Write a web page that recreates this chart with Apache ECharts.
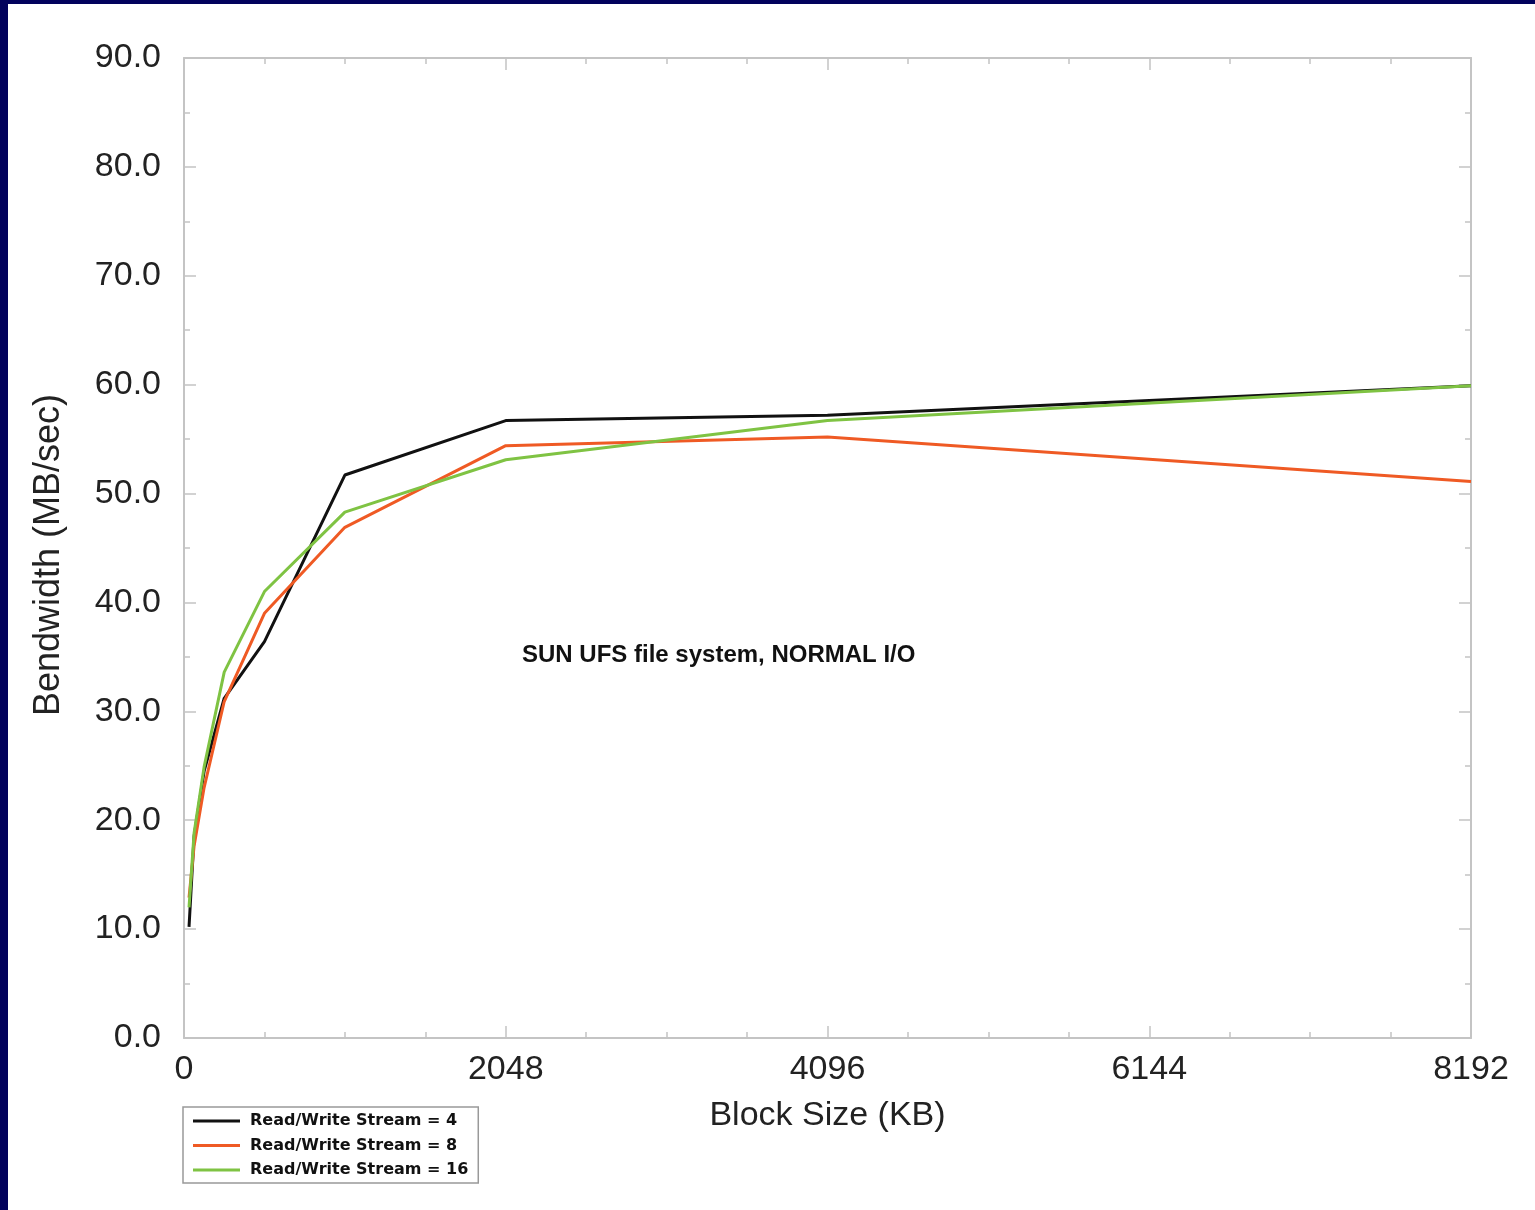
<!DOCTYPE html>
<html>
<head>
<meta charset="utf-8">
<script src="https://cdn.jsdelivr.net/npm/echarts@6/dist/echarts.min.js"></script>
<style>
  html, body { margin: 0; padding: 0; background: #02025c; width: 1535px; height: 1210px; overflow: hidden; }
  #chart { position: absolute; left: 8px; top: 4px; width: 1527px; height: 1206px; background: #ffffff; }
</style>
</head>
<body>
<div id="chart"></div>
<script>
// Block sizes (KB)
const blockSizes = [32, 64, 128, 256, 512, 1024, 2048, 4096, 8192];
// Bandwidth (MB/sec)
const stream4  = [10.2, 18.5, 24.5, 31.2, 36.4, 51.7, 56.7, 57.2, 59.9];
const stream8  = [12.9, 17.6, 23.0, 30.9, 39.0, 46.9, 54.4, 55.2, 51.1];
const stream16 = [12.0, 18.8, 24.9, 33.6, 41.0, 48.3, 53.1, 56.7, 59.9];
const seriesNames = ['Read/Write Stream = 4', 'Read/Write Stream = 8', 'Read/Write Stream = 16'];
const xTickLabels = ['0', '2048', '4096', '6144', '8192'];
const annotation = 'SUN UFS file system, NORMAL I/O';

const pairs = (ys) => blockSizes.map((x, i) => [x, ys[i]]);
const axisColor = '#c4c4c4';
const textColor = '#222';
const bigFont = 'Liberation Sans, Arial, sans-serif';

const chart = echarts.init(document.getElementById('chart'), null, { renderer: 'canvas' });

function xAx(pos, showLabel) {
  return {
    type: 'value', position: pos, min: 0, max: 8192, interval: 2048,
    axisLine: { show: true, onZero: false, lineStyle: { color: axisColor, width: 2 } },
    axisTick: { show: true, inside: true, length: 12, lineStyle: { color: axisColor, width: 1.5 } },
    minorTick: { show: true, splitNumber: 4, length: 6, lineStyle: { color: axisColor, width: 1.5 } },
    splitLine: { show: false },
    axisLabel: showLabel ? {
      show: true, margin: 15, fontSize: 34, color: textColor, fontFamily: bigFont,
      formatter: (v) => xTickLabels[Math.round(v / 2048)]
    } : { show: false },
    name: showLabel ? 'Block Size (KB)' : '',
    nameLocation: 'middle', nameGap: 61,
    nameTextStyle: { fontSize: 34, color: textColor, fontFamily: bigFont }
  };
}
function yAx(pos, showLabel) {
  return {
    type: 'value', position: pos, min: 0, max: 90, interval: 10,
    axisLine: { show: true, onZero: false, lineStyle: { color: axisColor, width: 2 } },
    axisTick: { show: true, inside: true, length: 12, lineStyle: { color: axisColor, width: 1.5 } },
    minorTick: { show: true, splitNumber: 2, length: 6, lineStyle: { color: axisColor, width: 1.5 } },
    splitLine: { show: false },
    axisLabel: showLabel ? {
      show: true, margin: 23, fontSize: 34, color: textColor, fontFamily: bigFont,
      padding: [4, 0, 0, 0],
      formatter: (v) => v.toFixed(1)
    } : { show: false },
    name: showLabel ? 'Bendwidth (MB/sec)' : '',
    nameLocation: 'middle', nameGap: 117,
    nameTextStyle: { fontSize: 36, color: textColor, fontFamily: bigFont, padding: [0, 14, 0, 0] }
  };
}

const colors = ['#111111', '#ef5a24', '#7fc343'];
const datasets = [stream4, stream8, stream16];

chart.setOption({
  animation: false,
  backgroundColor: '#ffffff',
  grid: { left: 176, right: 64, top: 54, bottom: 172, containLabel: false },
  xAxis: [xAx('bottom', true), xAx('top', false)],
  yAxis: [yAx('left', true), yAx('right', false)],
  legend: {
    orient: 'vertical', left: 175, top: 1103,
    padding: [6, 10, 5, 10], itemGap: 8.5,
    borderColor: '#999', borderWidth: 1.5, backgroundColor: '#fff',
    icon: 'rect', itemWidth: 47, itemHeight: 3,
    textStyle: { fontFamily: 'DejaVu Sans', fontWeight: 'bold', fontSize: 16, color: '#111', padding: [0, 0, 0, 5] },
    data: seriesNames
  },
  graphic: [{
    type: 'text', left: 514, top: 639,
    style: { text: annotation, fontFamily: bigFont, fontWeight: 'bold', fontSize: 24, fill: '#111' }
  }],
  series: datasets.map((d, i) => ({
    name: seriesNames[i], type: 'line', data: pairs(d),
    xAxisIndex: 0, yAxisIndex: 0,
    symbol: 'none', smooth: false,
    color: colors[i],
    lineStyle: { color: colors[i], width: 3 }
  }))
});
</script>
</body>
</html>
